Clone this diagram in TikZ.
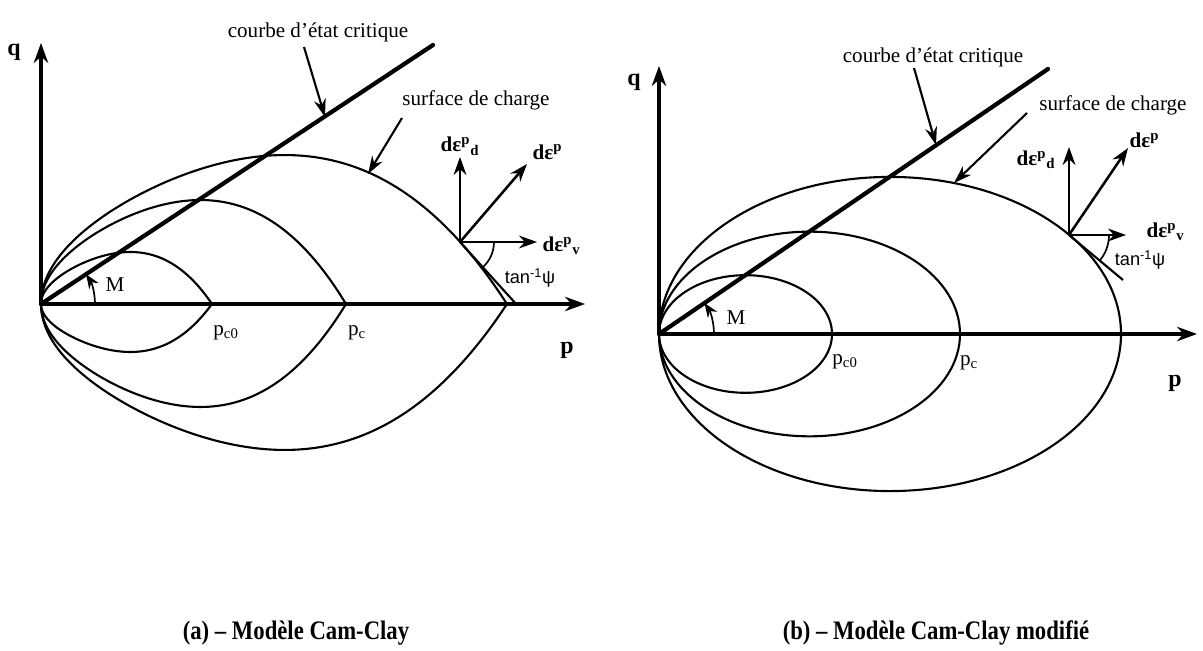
\documentclass[tikz,border=0pt]{standalone}
\usepackage{fontspec}
\setmainfont{Liberation Serif}
\setsansfont{Liberation Sans}
\newfontfamily\capfont[FakeStretch=0.85]{Liberation Serif}
\usetikzlibrary{arrows.meta}
\newcommand{\deps}[2]{{\bfseries dε\textsuperscript{#1}\textsubscript{#2}}}

\begin{document}
\begin{tikzpicture}[
    x=0.25mm, y=0.25mm,
    every node/.style={font=\fontsize{15}{18}\selectfont, inner sep=1pt},
    axis/.style={line width=2.2pt, -{Stealth[length=5mm,width=3.6mm]}},
    csl/.style={line width=3pt, line cap=round},
    yield/.style={line width=1.5pt},
    strain/.style={line width=1.8pt, -{Stealth[length=4.5mm,width=3.2mm]}},
    callout/.style={line width=1.5pt, -{Stealth[length=4.5mm,width=3mm]}},
    marc/.style={line width=1.2pt, -{Stealth[length=3.6mm,width=2.8mm]}},
    tang/.style={line width=1.5pt},
    axlabel/.style={font=\fontsize{17}{20}\selectfont\bfseries},
    psilabel/.style={font=\fontsize{13}{15}\selectfont\sffamily},
    caption/.style={font=\capfont\fontsize{19}{22}\selectfont\bfseries},
]
\useasboundingbox (0,0) rectangle (1203,650);

% ---------------- (a) Cam-Clay
\coordinate (oa) at (41,346);
\coordinate (qa) at (41,607);
\coordinate (pa) at (585,346);
\coordinate (ca) at (433,605);
\draw[axis] (oa) -- (qa);
\draw[axis] (oa) -- (pa);
\node[axlabel] (lqa) at (14,598) {q};
\node[axlabel] (lpa) at (567,300) {p};
% yield loci, upper and lower branches
\foreach \w/\hu/\hd in {171/52/48, 305/104/103, 466/149/146}{
  \draw[yield] plot[domain=0:1, samples=90, smooth]
      ({41+\w*\x*\x},{346+\hu*\x*(1-\x^6)/0.62});
  \draw[yield] plot[domain=0:1, samples=90, smooth]
      ({41+\w*\x*\x},{346-\hd*\x*(1-\x^6)/0.62});
}
\draw[csl] (oa) -- (ca);
\draw[marc] (oa) ++(54,0) arc[start angle=0, end angle=33.5, radius=54];
\node (ma) at (115,365) {M};
\node (pc0a) at (226,317) {p\textsubscript{c0}};
\node (pca) at (357,317) {p\textsubscript{c}};
% callouts
\node (csla) at (318,618) {courbe d'état critique};
\coordinate (csla-end) at (325,533);
\draw[callout] (304,603) -- (csla-end);
\node (surfa) at (476,550) {surface de charge};
\coordinate (surfa-end) at (368,476);
\draw[callout] (402,532) -- (surfa-end);
% plastic strain increments
\coordinate (sa) at (460,408);
\coordinate (sva) at (460,493);
\coordinate (sea) at (527,486);
\coordinate (sha) at (537,408);
\coordinate (sta) at (517,345);
\draw[tang] (sa) -- (sta);
\draw[strain] (sa) -- (sva);
\draw[strain] (sa) -- (sea);
\draw[strain] (sa) -- (sha);
\draw[line width=1.2pt] (sa) ++(34,0) arc[start angle=0, end angle=-48, radius=34];
\node[anchor=south] (dda) at (sva) {\deps{p}{d}};
\node[anchor=south west] (dea) at (531,486) {\deps{p}{}};
\node[anchor=west] (dva) at (541,404) {\deps{p}{v}};
\node[psilabel] (psia) at (530,372) {tan\textsuperscript{-1}ψ};

% ---------------- (b) Cam-Clay modifie
\coordinate (ob) at (659,316);
\coordinate (qb) at (659,584);
\coordinate (pb) at (1197,316);
\coordinate (cb) at (1048,581);
\draw[axis] (ob) -- (qb);
\draw[axis] (ob) -- (pb);
\node[axlabel] (lqb) at (634,568) {q};
\node[axlabel] (lpb) at (1175,267) {p};
% elliptic yield loci
\foreach \a in {86.5, 150.5, 231}{
  \draw[yield] (ob) ++(\a,0) ellipse[x radius=\a, y radius={0.68*\a}];
}
\draw[csl] (ob) -- (cb);
\draw[marc] (ob) ++(55,0) arc[start angle=0, end angle=34.3, radius=55];
\node (mb) at (736,332) {M};
\node (pc0b) at (845,288) {p\textsubscript{c0}};
\node (pcb) at (969,287) {p\textsubscript{c}};
% callouts
\node (cslb) at (933,593) {courbe d'état critique};
\coordinate (cslb-end) at (936,505);
\draw[callout] (914,582) -- (cslb-end);
\node (surfb) at (1113,545) {surface de charge};
\coordinate (surfb-end) at (954,467);
\draw[callout] (1027,537) -- (surfb-end);
% plastic strain increments
\coordinate (sb) at (1069,415);
\coordinate (svb) at (1069,503);
\coordinate (seb) at (1128,502);
\coordinate (shb) at (1126,415);
\coordinate (stb) at (1123,370);
\draw[tang] (sb) -- (stb);
\draw[strain] (sb) -- (svb);
\draw[strain] (sb) -- (seb);
\draw[strain] (sb) -- (shb);
\draw[line width=1.2pt] (sb) ++(40,0) arc[start angle=0, end angle=-40, radius=40];
\node (ddb) at (1036,490) {\deps{p}{d}};
\node[anchor=west] (deb) at (1128,508) {\deps{p}{}};
\node[anchor=west] (dvb) at (1145,418) {\deps{p}{v}};
\node[psilabel] (psib) at (1140,390) {tan\textsuperscript{-1}ψ};

% ---------------- captions
\node[caption] (capa) at (296,17) {(a) – Modèle Cam-Clay};
\node[caption] (capb) at (936,17) {(b) – Modèle Cam-Clay modifié};
\end{tikzpicture}
\end{document}
